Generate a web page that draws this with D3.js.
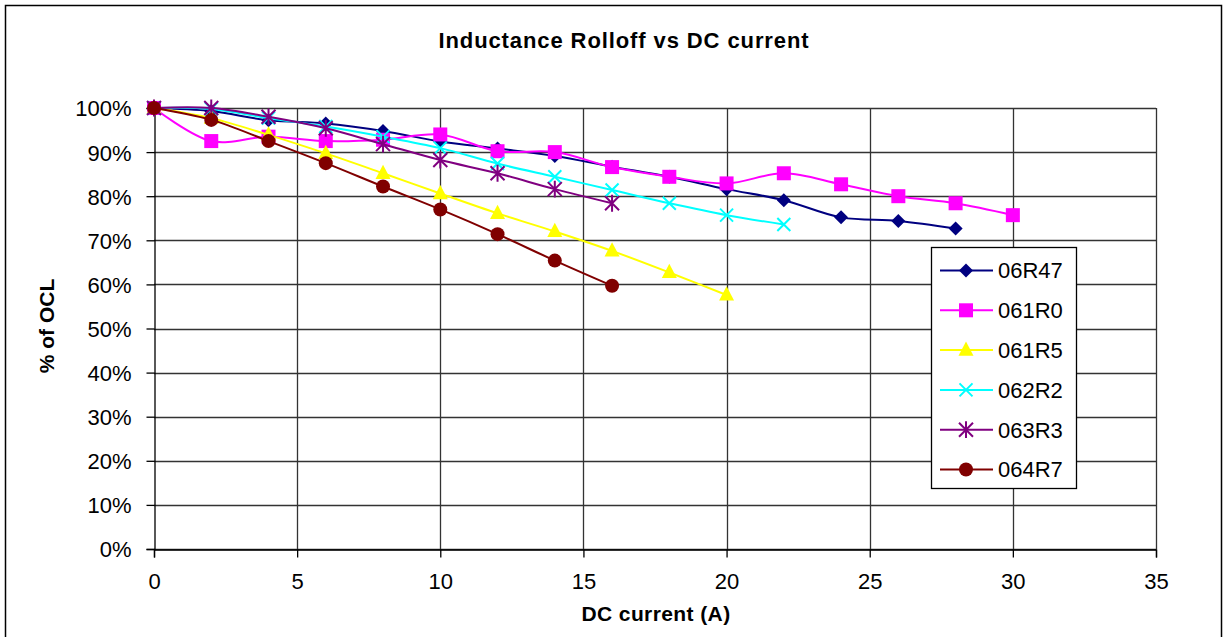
<!DOCTYPE html>
<html>
<head>
<meta charset="utf-8">
<script src="https://cdn.jsdelivr.net/npm/d3@7"></script>
<style>
  html, body { margin: 0; padding: 0; background: #fff; }
  svg { display: block; font-family: "Liberation Sans", Arial, sans-serif; }
</style>
</head>
<body>
<svg id="chart" width="1227" height="637"></svg>
<script>
// ---- Data ----
const currents = [0, 2, 4, 6, 8, 10, 12, 14, 16, 18, 20, 22, 24, 26, 28, 30];
const seriesNames = ["06R47", "061R0", "061R5", "062R2", "063R3", "064R7"];
const s06R47 = [100, 99.3, 97.2, 96.5, 94.8, 92.4, 90.8, 89.1, 86.7, 84.4, 81.6, 79.1, 75.2, 74.4, 72.7];
const s061R0 = [100, 92.5, 93.5, 92.5, 92.8, 94.0, 90.2, 90.0, 86.6, 84.4, 82.9, 85.2, 82.7, 80.0, 78.4, 75.7];
const s061R5 = [100, 97.7, 93.9, 89.7, 85.2, 80.6, 76.1, 72.0, 67.6, 62.7, 57.6];
const s062R2 = [100, 99.8, 97.7, 95.8, 93.5, 90.9, 87.4, 84.4, 81.4, 78.4, 75.7, 73.6];
const s063R3 = [100, 100, 98.0, 95.4, 91.8, 88.2, 85.2, 81.6, 78.4];
const s064R7 = [100, 97.3, 92.5, 87.5, 82.2, 77.0, 71.4, 65.4, 59.7];
const seriesValues = [s06R47, s061R0, s061R5, s062R2, s063R3, s064R7];
const seriesColors = ["#000080", "#FF00FF", "#FFFF00", "#00FFFF", "#800080", "#800000"];
const seriesMarkers = ["diamond", "square", "triangle", "x", "asterisk", "circle"];
const xTicks = [0, 5, 10, 15, 20, 25, 30, 35];
const yTicks = [0, 10, 20, 30, 40, 50, 60, 70, 80, 90, 100];
const titleText = "Inductance Rolloff vs DC current";
const xLabel = "DC current (A)";
const yLabel = "% of OCL";

// ---- Layout ----
const svg = d3.select("#chart");
const plot = { left: 154, right: 1156, top: 108, bottom: 549 };
const x = d3.scaleLinear().domain([0, 35]).range([plot.left, plot.right]);
const y = d3.scaleLinear().domain([0, 100]).range([plot.bottom, plot.top]);

// outer border
svg.append("rect").attr("x", 5.5).attr("y", 5.5).attr("width", 1216).attr("height", 640)
  .attr("fill", "#fff").attr("stroke", "#000").attr("stroke-width", 1.5);

// title
svg.append("text").attr("x", 624).attr("y", 48).attr("text-anchor", "middle")
  .attr("font-size", 22).attr("font-weight", "bold").attr("letter-spacing", 0.9)
  .text(titleText);

// gridlines
const g = svg.append("g");
g.selectAll("line.hg").data(yTicks).enter().append("line")
  .attr("x1", plot.left).attr("x2", plot.right)
  .attr("y1", d => Math.round(y(d)) + 0.5).attr("y2", d => Math.round(y(d)) + 0.5)
  .attr("stroke", "#333").attr("stroke-width", 1.3);
g.selectAll("line.vg").data(xTicks.slice(1)).enter().append("line")
  .attr("y1", plot.top).attr("y2", plot.bottom)
  .attr("x1", d => Math.round(x(d)) + 0.5).attr("x2", d => Math.round(x(d)) + 0.5)
  .attr("stroke", "#333").attr("stroke-width", 1.3);

// axes
const xAxis = d3.axisBottom(x).tickValues(xTicks).tickSize(8).tickPadding(16).tickFormat(d3.format("d"));
const yAxis = d3.axisLeft(y).tickValues(yTicks).tickSize(8).tickPadding(15).tickFormat(d => d + "%");
const gx = svg.append("g").attr("transform", `translate(0,${Math.round(plot.bottom) + 0.5})`).call(xAxis);
const gy = svg.append("g").attr("transform", `translate(${Math.round(plot.left) + 0.5},0)`).call(yAxis);
[gx, gy].forEach(a => {
  a.selectAll("path").attr("stroke", "#000").attr("stroke-width", 1.3);
  a.selectAll("line").attr("stroke", "#000").attr("stroke-width", 1.3);
  a.selectAll("text").attr("font-size", 22).attr("fill", "#000")
    .attr("font-family", "'Liberation Sans', Arial, sans-serif");
});
gy.selectAll("text").attr("dy", "0.36em");

// axis labels
svg.append("text").attr("x", 656).attr("y", 621).attr("text-anchor", "middle")
  .attr("font-size", 21).attr("font-weight", "bold").attr("letter-spacing", 0.4).text(xLabel);
svg.append("text").attr("transform", "translate(54,326) rotate(-90)").attr("text-anchor", "middle")
  .attr("font-size", 21).attr("font-weight", "bold").text(yLabel);

// markers
function drawMarker(sel, type, color, cx, cy, s) {
  switch (type) {
    case "diamond":
      sel.append("path").attr("d", `M${cx},${cy - s}L${cx + s},${cy}L${cx},${cy + s}L${cx - s},${cy}Z`)
        .attr("fill", color); break;
    case "square":
      sel.append("rect").attr("x", cx - s).attr("y", cy - s).attr("width", 2 * s).attr("height", 2 * s)
        .attr("fill", color); break;
    case "triangle":
      sel.append("path").attr("d", `M${cx},${cy - s * 1.15}L${cx + s},${cy + s * 0.75}L${cx - s},${cy + s * 0.75}Z`)
        .attr("fill", color); break;
    case "x":
      sel.append("path").attr("d", `M${cx - s},${cy - s}L${cx + s},${cy + s}M${cx - s},${cy + s}L${cx + s},${cy - s}`)
        .attr("stroke", color).attr("stroke-width", 2).attr("fill", "none"); break;
    case "asterisk":
      sel.append("path").attr("d", `M${cx - s},${cy - s}L${cx + s},${cy + s}M${cx - s},${cy + s}L${cx + s},${cy - s}M${cx},${cy - s * 1.2}L${cx},${cy + s * 1.2}`)
        .attr("stroke", color).attr("stroke-width", 2).attr("fill", "none"); break;
    case "circle":
      sel.append("circle").attr("cx", cx).attr("cy", cy).attr("r", s).attr("fill", color); break;
  }
}
const markerSize = { diamond: 7, square: 7, triangle: 7.5, x: 6.5, asterisk: 7, circle: 7 };

const line = d3.line().x(d => x(d[0])).y(d => y(d[1])).curve(d3.curveCatmullRom.alpha(0.5));
const series = seriesNames.map((name, i) => ({
  name, color: seriesColors[i], marker: seriesMarkers[i],
  pts: seriesValues[i].map((v, j) => [currents[j], v])
}));
const sg = svg.append("g");
series.forEach(s => {
  const gg = sg.append("g");
  gg.append("path").datum(s.pts).attr("d", line).attr("fill", "none")
    .attr("stroke", s.color).attr("stroke-width", 2);
  s.pts.forEach(p => drawMarker(gg, s.marker, s.color, x(p[0]), y(p[1]), markerSize[s.marker]));
});

// legend
const lg = svg.append("g");
lg.append("rect").attr("x", 931.5).attr("y", 247.5).attr("width", 145).attr("height", 241)
  .attr("fill", "#fff").attr("stroke", "#000").attr("stroke-width", 1.3);
series.forEach((s, i) => {
  const ly = 270.5 + i * 39.8;
  lg.append("line").attr("x1", 940).attr("x2", 993).attr("y1", ly).attr("y2", ly)
    .attr("stroke", s.color).attr("stroke-width", 2);
  drawMarker(lg, s.marker, s.color, 966, ly, markerSize[s.marker]);
  lg.append("text").attr("x", 998).attr("y", ly).attr("dy", "0.36em")
    .attr("font-size", 22).text(s.name);
});
</script>
</body>
</html>
